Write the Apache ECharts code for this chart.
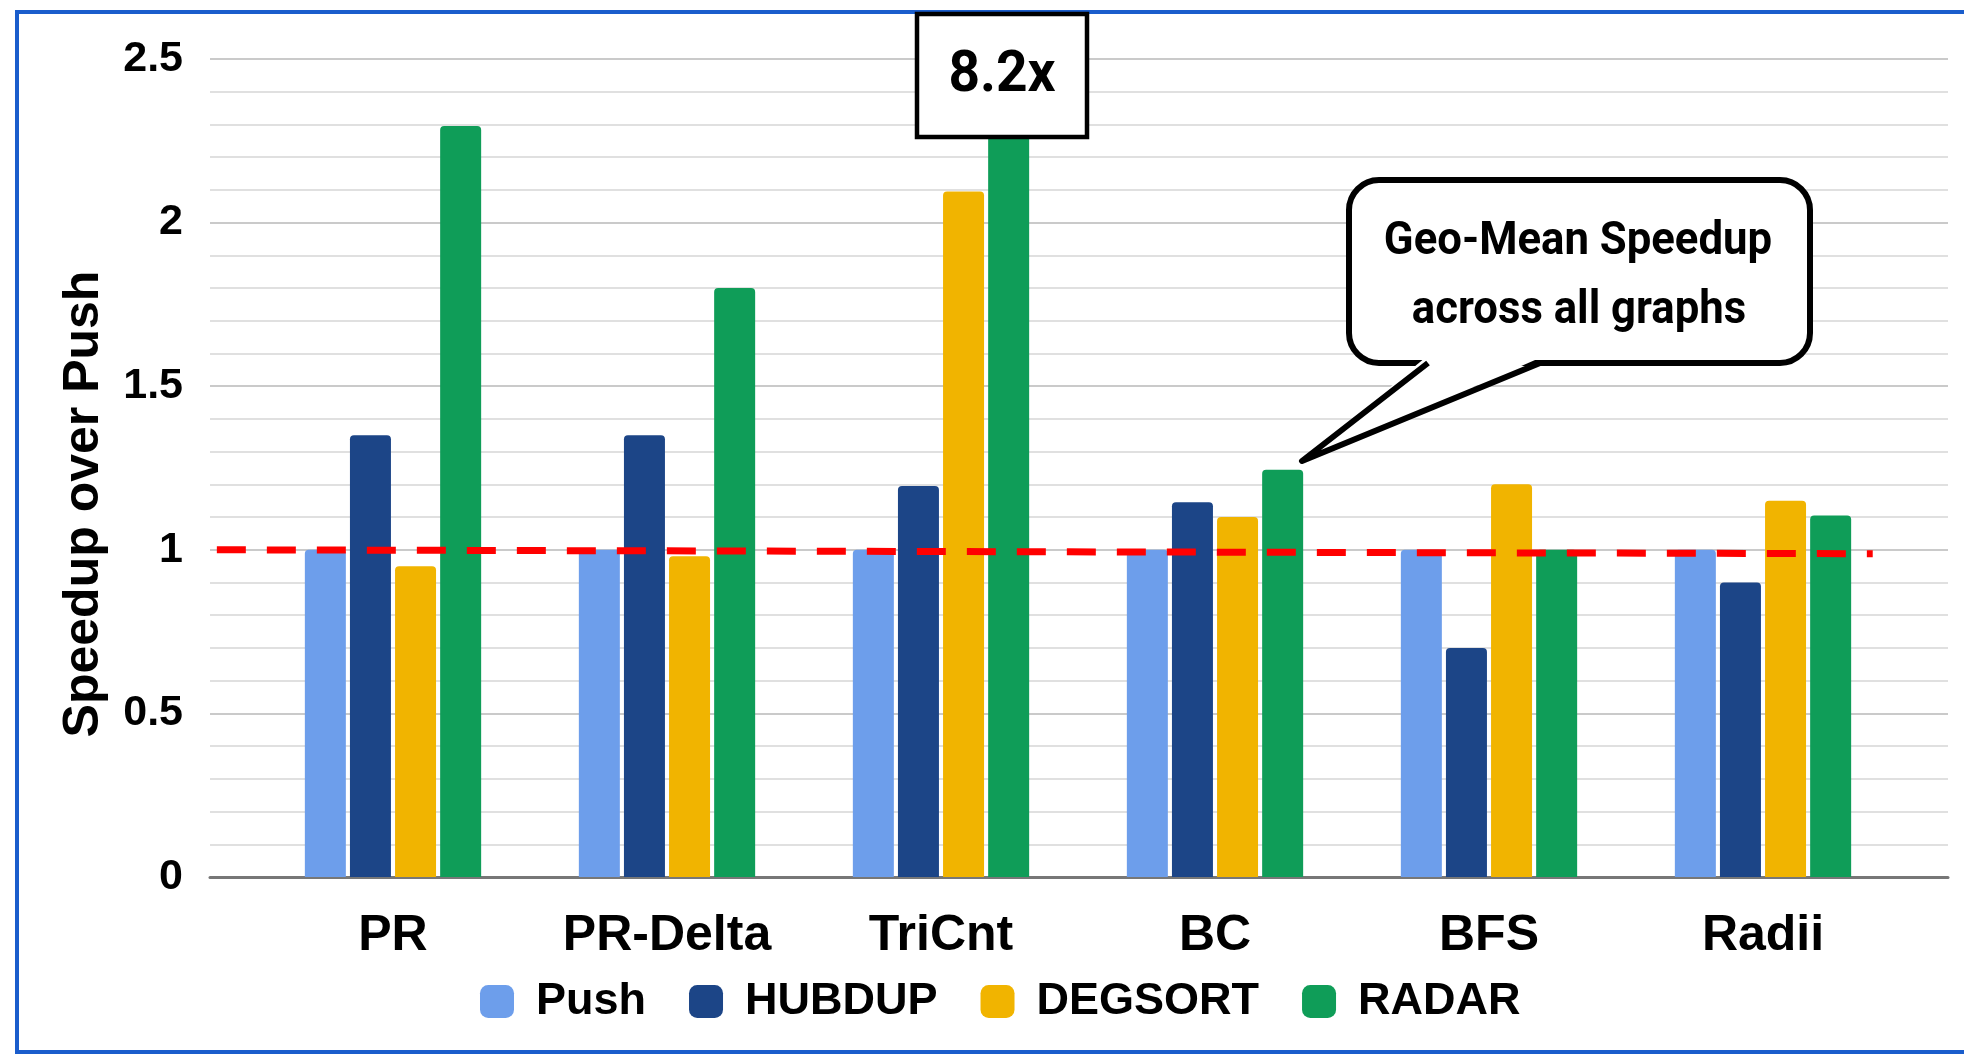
<!DOCTYPE html>
<html><head><meta charset="utf-8">
<script src="https://cdn.jsdelivr.net/npm/echarts@6/dist/echarts.min.js"></script>
<style>html,body{margin:0;padding:0;background:#fff}#c{width:1964px;height:1056px}</style>
</head><body><div id="c"></div>
<script>
// ---- data ----
const categories = ['PR', 'PR-Delta', 'TriCnt', 'BC', 'BFS', 'Radii'];
const seriesNames = ['Push', 'HUBDUP', 'DEGSORT', 'RADAR'];
const pushValues = [1, 1, 1, 1, 1, 1];
const hubdupValues = [1.35, 1.35, 1.195, 1.145, 0.7, 0.9];
const degsortValues = [0.95, 0.98, 2.095, 1.1, 1.2, 1.15];
const radarValues = [2.295, 1.8, 8.2, 1.245, 1.0, 1.105];
const yTickValues = [0, 0.5, 1, 1.5, 2, 2.5];
const baselineX = [-0.65, 5.40];      // in category-index units
const baselineY = [1.0, 0.988];
const outlierLabel = '8.2x';
const calloutLines = ['Geo-Mean Speedup', 'across all graphs'];
const yAxisTitle = 'Speedup over Push';

const colors = ['#6d9eeb', '#1c4587', '#f1b400', '#0f9d58'];
const valuesBySeries = [pushValues, hubdupValues, degsortValues, radarValues];
const FONT = '"Liberation Sans", Arial, sans-serif';

const chart = echarts.init(document.getElementById('c'), null, {renderer: 'canvas'});

const barSeries = seriesNames.map((n, i) => ({
  name: n, type: 'bar', xAxisIndex: 1, yAxisIndex: 1,
  data: valuesBySeries[i], barWidth: 41, barGap: '10%',
  itemStyle: {color: colors[i], borderRadius: [4, 4, 0, 0]},
  z: 3
}));

const txt = (t, x, y, size, family, extra) => Object.assign({
  type: 'text', z: 101, x: x, y: y,
  style: {text: t, fontSize: size, fontWeight: 'bold', fontFamily: family, fill: '#000',
          align: 'center', verticalAlign: 'middle', textAlign: 'center', textVerticalAlign: 'middle'}
}, extra || {});

const option = {
  animation: false,
  backgroundColor: '#ffffff',
  grid: [
    {left: 210, right: 16, top: 59, bottom: 179},
    {left: 256, right: 64, top: 59, bottom: 179}
  ],
  xAxis: [
    {type: 'value', gridIndex: 0, min: -0.675, max: 5.675,
     axisLine: {show: true, lineStyle: {color: '#777', width: 3}},
     axisTick: {show: false}, axisLabel: {show: false}, splitLine: {show: false}},
    {type: 'category', gridIndex: 1, data: categories,
     axisLine: {show: false}, axisTick: {show: false},
     axisLabel: {fontSize: 50, fontWeight: 'bold', color: '#000', fontFamily: FONT, margin: 34}}
  ],
  yAxis: [
    {type: 'value', gridIndex: 0, min: yTickValues[0], max: yTickValues[yTickValues.length - 1], interval: 0.5,
     axisLine: {show: false}, axisTick: {show: false},
     axisLabel: {fontSize: 43, fontWeight: 'bold', color: '#000', fontFamily: FONT, margin: 27},
     splitLine: {show: true, lineStyle: {color: '#cacaca', width: 2}},
     minorTick: {show: false, splitNumber: 5},
     minorSplitLine: {show: true, lineStyle: {color: '#e0e0e0', width: 2}}},
    {type: 'value', gridIndex: 1, min: 0, max: 2.5, interval: 0.5, show: false,
     splitLine: {show: false}}
  ],
  legend: {
    data: seriesNames, left: 475, top: 974, itemWidth: 34, itemHeight: 33, itemGap: 43,
    icon: 'roundRect',
    textStyle: {fontSize: 45, fontWeight: 'bold', color: '#000', fontFamily: FONT, lineHeight: 45, padding: [0, 0, 0, 17]}
  },
  series: barSeries.concat([{
    name: 'baseline', type: 'line', xAxisIndex: 0, yAxisIndex: 0,
    data: [[baselineX[0], baselineY[0]], [baselineX[1], baselineY[1]]],
    symbol: 'none', silent: true, z: 10,
    lineStyle: {color: '#ff0000', width: 7, type: [29, 21]}
  }]),
  graphic: [
    {type: 'rect', z: 0, silent: true,
     shape: {x: 17, y: 12, width: 2000, height: 1040},
     style: {fill: 'none', stroke: '#1a5dcc', lineWidth: 4}},
    txt(yAxisTitle, 84, 504, 50, FONT, {rotation: Math.PI / 2, z: 50}),
    // outlier box
    {type: 'rect', z: 100, shape: {x: 917, y: 14, width: 170, height: 123},
     style: {fill: '#fff', stroke: '#000', lineWidth: 4.5}},
    txt(outlierLabel, 1002, 76, 58, 'Roboto, sans-serif', {scaleX: 0.95}),
    // callout bubble: rounded box + tail
    {type: 'rect', z: 100, shape: {x: 1349, y: 180, width: 461, height: 183, r: 30},
     style: {fill: '#fff', stroke: '#000', lineWidth: 6}},
    {type: 'polygon', z: 100, shape: {points: [[1426, 357], [1302, 461], [1542, 357]]},
     style: {fill: '#fff', stroke: 'none'}},
    {type: 'polyline', z: 100, shape: {points: [[1428, 363], [1302, 461], [1540, 363]]},
     style: {fill: 'none', stroke: '#000', lineWidth: 6, lineJoin: 'round'}},
    txt(calloutLines[0], 1578, 242, 47, 'Roboto, sans-serif', {scaleX: 0.93}),
    txt(calloutLines[1], 1579, 311, 47, 'Roboto, sans-serif', {scaleX: 0.93})
  ]
};
chart.setOption(option);
</script>
</body></html>
